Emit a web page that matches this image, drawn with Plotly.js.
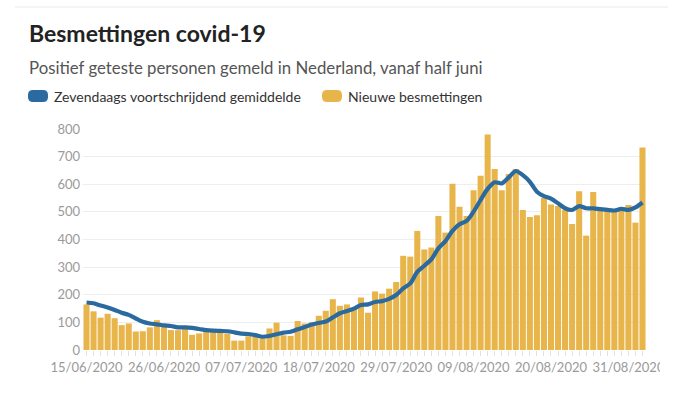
<!DOCTYPE html>
<html>
<head>
<meta charset="utf-8">
<script src="https://cdn.plot.ly/plotly-3.0.1.min.js"></script>
<style>
  html, body { margin: 0; padding: 0; background: #ffffff; }
  #chart { width: 680px; height: 396px; }
</style>
</head>
<body>
<div id="chart"></div>
<script>
// ---- Data ----
const dates = [
  '2020-06-15','2020-06-16','2020-06-17','2020-06-18','2020-06-19','2020-06-20','2020-06-21','2020-06-22',
  '2020-06-23','2020-06-24','2020-06-25','2020-06-26','2020-06-27','2020-06-28','2020-06-29','2020-06-30',
  '2020-07-01','2020-07-02','2020-07-03','2020-07-04','2020-07-05','2020-07-06','2020-07-07','2020-07-08',
  '2020-07-09','2020-07-10','2020-07-11','2020-07-12','2020-07-13','2020-07-14','2020-07-15','2020-07-16',
  '2020-07-17','2020-07-18','2020-07-19','2020-07-20','2020-07-21','2020-07-22','2020-07-23','2020-07-24',
  '2020-07-25','2020-07-26','2020-07-27','2020-07-28','2020-07-29','2020-07-30','2020-07-31','2020-08-01',
  '2020-08-02','2020-08-03','2020-08-04','2020-08-05','2020-08-06','2020-08-07','2020-08-08','2020-08-09',
  '2020-08-10','2020-08-11','2020-08-12','2020-08-13','2020-08-14','2020-08-15','2020-08-16','2020-08-17',
  '2020-08-18','2020-08-19','2020-08-20','2020-08-21','2020-08-22','2020-08-23','2020-08-24','2020-08-25',
  '2020-08-26','2020-08-27','2020-08-28','2020-08-29','2020-08-30','2020-08-31','2020-09-01','2020-09-02'
];

const newCases = [
  165,140,117,131,115,90,96,67,
  68,82,108,88,72,72,76,55,
  60,66,66,62,59,34,34,50,
  47,42,78,99,53,51,105,96,
  100,124,142,184,160,165,152,190,
  135,212,204,222,246,341,338,431,
  364,371,485,425,602,519,485,578,
  631,780,655,578,637,655,507,481,
  488,550,527,521,507,456,575,414,
  572,505,503,503,507,525,461,733
];

const movingAvg = [
  172,169,161,154,145,135,127,114,
  102,96,93,89,87,82,82,80,
  76,72,70,69,68,64,59,58,
  54,48,51,57,63,66,75,83,
  92,98,103,118,133,141,150,163,
  165,174,177,185,199,223,241,283,
  305,328,368,394,431,455,467,501,
  543,583,607,603,625,648,633,609,
  573,557,548,531,513,507,521,513,
  513,510,507,505,511,507,516,534
];

const xTickVals = ['2020-06-15','2020-06-26','2020-07-07','2020-07-18','2020-07-29','2020-08-09','2020-08-20','2020-08-31'];
const xTickText = ['15/06/2020','26/06/2020','07/07/2020','18/07/2020','29/07/2020','09/08/2020','20/08/2020','31/08/2020'];
const yTickVals = [0,100,200,300,400,500,600,700,800];

const seriesNames = ['Zevendaags voortschrijdend gemiddelde', 'Nieuwe besmettingen'];
const titleText = 'Besmettingen covid-19';
const subtitleText = 'Positief geteste personen gemeld in Nederland, vanaf half juni';

// ---- Styling ----
const BLUE = '#2b6a9e';
const GOLD = '#e8b54b';
const FONT = 'Lato, "Open Sans", sans-serif';

const W = 680, H = 396;
const M = { l: 83, r: 34, t: 129, b: 46 };
const PW = W - M.l - M.r, PH = H - M.t - M.b;
const px = x => (x - M.l) / PW;          // pixel x -> paper
const py = y => (H - M.b - y) / PH;      // pixel y -> paper

function roundRect(x0, y0, x1, y1, r) {
  const X = v => px(v).toFixed(5), Y = v => py(v).toFixed(5);
  return 'M' + X(x0 + r) + ',' + Y(y0) +
    ' L' + X(x1 - r) + ',' + Y(y0) +
    ' Q' + X(x1) + ',' + Y(y0) + ' ' + X(x1) + ',' + Y(y0 + r) +
    ' L' + X(x1) + ',' + Y(y1 - r) +
    ' Q' + X(x1) + ',' + Y(y1) + ' ' + X(x1 - r) + ',' + Y(y1) +
    ' L' + X(x0 + r) + ',' + Y(y1) +
    ' Q' + X(x0) + ',' + Y(y1) + ' ' + X(x0) + ',' + Y(y1 - r) +
    ' L' + X(x0) + ',' + Y(y0 + r) +
    ' Q' + X(x0) + ',' + Y(y0) + ' ' + X(x0 + r) + ',' + Y(y0) + ' Z';
}

const traces = [
  {
    type: 'bar', x: dates, y: newCases, name: seriesNames[1],
    marker: { color: GOLD, line: { width: 0 } },
    hoverinfo: 'x+y'
  },
  {
    type: 'scatter', mode: 'lines', x: dates, y: movingAvg, name: seriesNames[0],
    line: { color: BLUE, width: 4.2, shape: 'spline', smoothing: 0.8 },
    hoverinfo: 'x+y'
  }
];

const layout = {
  width: W, height: H,
  margin: M,
  paper_bgcolor: '#ffffff', plot_bgcolor: '#ffffff',
  showlegend: false,
  bargap: 0.14,
  font: { family: FONT, color: '#999999', size: 13 },
  xaxis: {
    type: 'date',
    range: ['2020-06-14 12:00', '2020-09-02 12:00'],
    tickmode: 'array', tickvals: xTickVals, ticktext: xTickText,
    ticks: 'outside', ticklen: 5, tickwidth: 1, tickcolor: '#e2e2e2',
    minor: { dtick: 86400000, tick0: '2020-06-15', ticks: 'outside', ticklen: 5, tickwidth: 1, tickcolor: '#e2e2e2', showgrid: false },
    showgrid: false, showline: false, zeroline: false,
    tickfont: { family: FONT, size: 13, color: '#9a9a9a' },
    fixedrange: true
  },
  yaxis: {
    range: [0, 800],
    tickmode: 'array', tickvals: yTickVals,
    showgrid: true, gridcolor: '#eeeeee', gridwidth: 1,
    zeroline: false, showline: false, ticks: '',
    ticklabelstandoff: 2,
    tickfont: { family: FONT, size: 13, color: '#9a9a9a' },
    fixedrange: true
  },
  shapes: [
    { type: 'line', xref: 'paper', yref: 'paper', x0: px(15), x1: px(668), y0: py(7), y1: py(7),
      line: { color: '#e8e8e8', width: 1 } },
    { type: 'path', xref: 'paper', yref: 'paper', path: roundRect(28, 90, 48, 102, 5),
      fillcolor: BLUE, line: { width: 0 } },
    { type: 'path', xref: 'paper', yref: 'paper', path: roundRect(322, 90, 342, 102, 5),
      fillcolor: GOLD, line: { width: 0 } },
    { type: 'rect', xref: 'paper', yref: 'paper', x0: px(660), x1: px(682), y0: py(358), y1: py(388),
      fillcolor: '#ffffff', line: { width: 0 }, layer: 'above' }
  ],
  annotations: [
    { text: '<b>' + titleText + '</b>', xref: 'paper', yref: 'paper', x: px(27), y: py(33),
      xanchor: 'left', yanchor: 'middle', showarrow: false,
      font: { family: FONT, size: 23, color: '#222222' } },
    { text: subtitleText, xref: 'paper', yref: 'paper', x: px(27), y: py(67),
      xanchor: 'left', yanchor: 'middle', showarrow: false,
      font: { family: FONT, size: 16.8, color: '#555555' } },
    { text: seriesNames[0], xref: 'paper', yref: 'paper', x: px(52), y: py(96),
      xanchor: 'left', yanchor: 'middle', showarrow: false,
      font: { family: FONT, size: 14, color: '#333333' } },
    { text: seriesNames[1], xref: 'paper', yref: 'paper', x: px(346), y: py(96),
      xanchor: 'left', yanchor: 'middle', showarrow: false,
      font: { family: FONT, size: 14, color: '#333333' } }
  ]
};

Plotly.newPlot('chart', traces, layout, { displayModeBar: false, staticPlot: true });
</script>
</body>
</html>
